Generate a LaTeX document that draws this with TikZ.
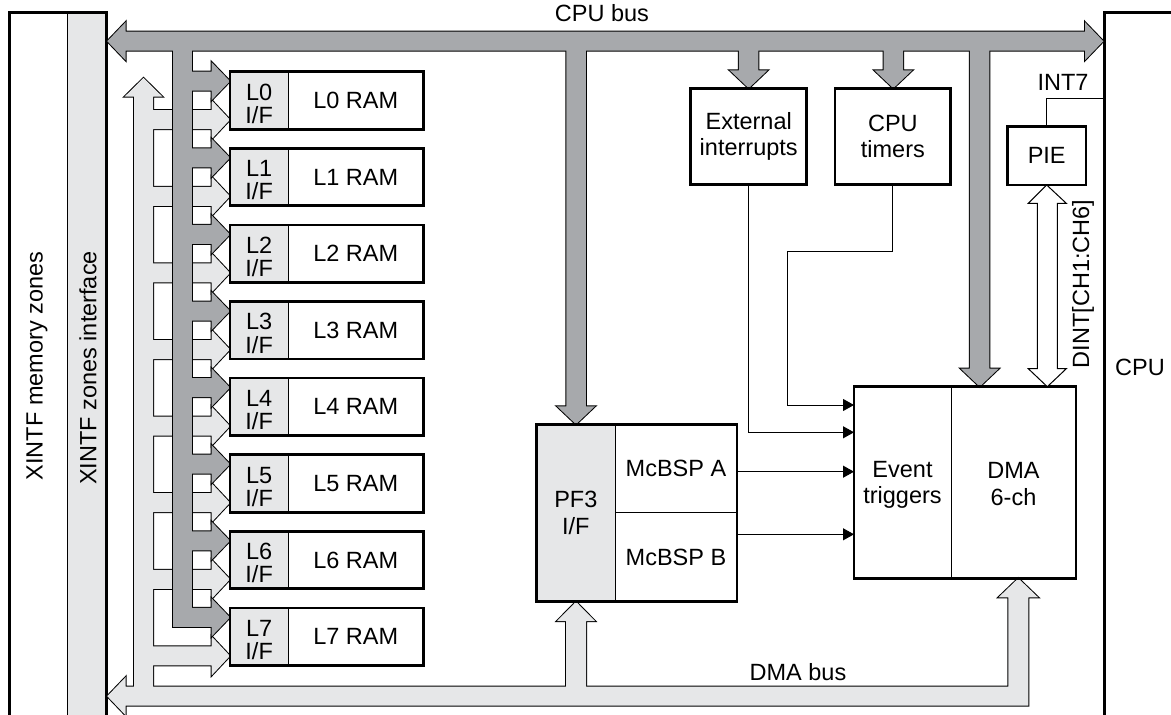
\documentclass[tikz,border=0pt]{standalone}
\usepackage{fontspec}
\setmainfont{Liberation Sans}
\usetikzlibrary{positioning}
\usetikzlibrary{arrows.meta}
\definecolor{busdark}{RGB}{167,169,172}
\definecolor{buslight}{RGB}{230,231,232}
\tikzstyle{blk}=[draw, line width=1pt, inner sep=0pt, outer sep=0pt, align=center]
\tikzstyle{thickframe}=[line width=2.7pt]
\tikzstyle{wire}=[line width=1pt]
\tikzstyle{trig}=[wire, -{Triangle[length=11pt,width=12pt]}]
\tikzstyle{darkline}=[draw=black, line width=2pt]
\tikzstyle{darkfill}=[fill=busdark]
\tikzstyle{lightline}=[draw=black, line width=2pt]
\tikzstyle{lightfill}=[fill=buslight]

\begin{document}
\begin{tikzpicture}[x=1pt, y=-1pt, font=\fontsize{23.5}{26.7}\selectfont]
  \useasboundingbox (0,0) rectangle (1171,715);
  \clip (0,0) rectangle (1171,715);

  \node[blk, fill=buslight, minimum width=39.6pt, minimum height=760pt, anchor=north west] (zif) at (67.7,12.7) {};
  \node[blk, thickframe, minimum width=97.3pt, minimum height=760pt, anchor=north west] (xintf) at (9.5,12.7) {};
  \node[rotate=90] (xmem) at (37,366) {XINTF memory zones};
  \node[rotate=90] (xzif) at (88,368) {XINTF zones interface};
  \node[blk, thickframe, minimum width=100pt, minimum height=760pt, anchor=north west] (cpu) at (1104.3,12.7) {};
  \node (cpulbl) at (1140,367) {CPU};

  \foreach \s in {lightline,lightfill} {
    \path[\s] (134,700) -- (134,96.7) -- (124.5,96.7) -- (143.5,78) -- (162.5,96.7) -- (153,96.7) -- (153,700) -- cycle;
    \path[\s] (107.3,696.2) -- (125.5,677.2) -- (125.5,686.7) -- (1008.3,686.7) -- (1008.3,597.3) -- (998.5,597.3)
      -- (1018.3,578.3) -- (1038.1,597.3) -- (1028.3,597.3) -- (1028.3,705.7) -- (125.5,705.7) -- (125.5,715.2) -- cycle;
    \path[\s] (566,695) -- (566,621) -- (557,621) -- (576,601.7) -- (595,621) -- (586,621) -- (586,695) -- cycle;
    \foreach \k in {0,...,7} {
      \pgfmathsetmacro\yk{71.7+76.6*\k}
      \path[\s] (140,\yk+38.5) -- (211.7,\yk+38.5) -- (211.7,\yk+28.5) -- (230,\yk+48)
        -- (211.7,\yk+67.5) -- (211.7,\yk+57.5) -- (140,\yk+57.5) -- cycle;
    }
  }

  \foreach \s in {darkline,darkfill} {
    \path[\s] (107.3,41.2) -- (125.5,22.2) -- (125.5,31.7) -- (1085,31.7) -- (1085,22.2) -- (1103.3,41.2)
      -- (1085,60.2) -- (1085,50.7) -- (125.5,50.7) -- (125.5,60.2) -- cycle;
    \path[\s] (172.7,41) rectangle (191.7,626.9);
    \foreach \k in {0,...,7} {
      \pgfmathsetmacro\yk{71.7+76.6*\k}
      \path[\s] (185,\yk) -- (211.7,\yk) -- (211.7,\yk-9.5) -- (230,\yk+9.5)
        -- (211.7,\yk+28.5) -- (211.7,\yk+19) -- (185,\yk+19) -- cycle;
    }
    \foreach \cx/\ty in {576/424.3, 748.7/88.3, 893.3/88.3, 979.7/386.7} {
      \path[\s] (\cx-9.75,41) -- (\cx+9.75,41) -- (\cx+9.75,\ty-18) -- (\cx+19,\ty-18)
        -- (\cx,\ty) -- (\cx-19,\ty-18) -- (\cx-9.75,\ty-18) -- cycle;
    }
  }

  \foreach \k in {0,...,7} {
    \pgfmathsetmacro\yk{100.45+76.6*\k}
    \node[blk, fill=buslight, minimum width=58.3pt, minimum height=57.5pt, font=\fontsize{23.5}{23.3}\selectfont] (if\k) at (259.15,\yk) {\rule{0pt}{22.8pt}L\k\\I/F};
    \node[blk, minimum width=135pt, minimum height=57.5pt, right=0pt of if\k] (ram\k) {L\k\ RAM};
    \draw[thickframe] (if\k.north west) rectangle (ram\k.south east);
  }

  \node[blk, fill=buslight, minimum width=78.3pt, minimum height=177.4pt] (pf3) at (575.85,513) {PF3\\I/F};
  \node[blk, minimum width=122pt, minimum height=88pt, anchor=north west] (mcbspa) at (pf3.north east) {McBSP A};
  \node[blk, minimum width=122pt, minimum height=89.4pt, below=0pt of mcbspa] (mcbspb) {McBSP B};
  \draw[thickframe] (pf3.north west) rectangle (mcbspb.south east);

  \node[blk, minimum width=97pt, minimum height=191.6pt] (evt) at (902.5,482.5) {\rule{0pt}{20.8pt}Event\\triggers};
  \node[blk, minimum width=125pt, minimum height=191.6pt, right=0pt of evt] (dma) {\rule{0pt}{19.8pt}DMA\\6-ch};
  \draw[thickframe] (evt.north west) rectangle (dma.south east);

  \node[blk, thickframe, minimum width=115.8pt, minimum height=96pt] (ext) at (748.7,136.3) {External\\interrupts};
  \node[blk, thickframe, minimum width=115.8pt, minimum height=96pt, right=28.4pt of ext] (tim) {CPU\\timers};
  \node[blk, thickframe, minimum width=78.7pt, minimum height=58.3pt] (pie) at (1046.7,155.85) {PIE};

  \draw[wire, fill=white] (pie.south) -- (1066.3,203.3) -- (1057.3,203.3) -- (1057.3,368.7) -- (1066.3,368.7)
    -- (1047.3,386.7) -- (1028.3,368.7) -- (1037.3,368.7) -- (1037.3,203.3) -- (1028.3,203.3) -- cycle;

  \draw[trig] (ext.south) |- (evt.west |- 0,432.3);
  \draw[trig] (tim.south) -- ++(0,67.4) -| (787.7,405) -- (evt.west |- 0,405);
  \draw[trig] (mcbspa.east |- 0,471.7) -- (evt.west |- 0,471.7);
  \draw[trig] (mcbspb.east |- 0,534.3) -- (evt.west |- 0,534.3);
  \draw[wire] (pie.north) |- (cpu.west |- 0,98.7);

  \node (cpubus) at (602,13) {CPU bus};
  \node (dmabus) at (798,672) {DMA bus};
  \node (int7) at (1063,82) {INT7};
  \node[rotate=90] (dint) at (1083,284) {DINT[CH1:CH6]};
\end{tikzpicture}
\end{document}
